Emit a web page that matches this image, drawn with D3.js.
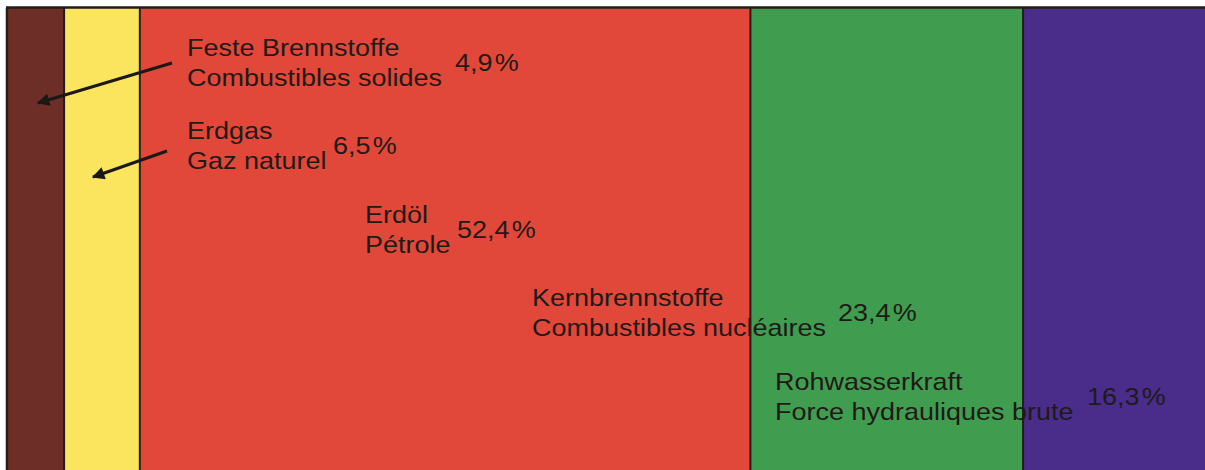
<!DOCTYPE html>
<html><head><meta charset="utf-8">
<script src="https://cdn.jsdelivr.net/npm/d3@7"></script>
<style>html,body{margin:0;padding:0;background:#fff;overflow:hidden}</style>
</head><body>
<script>
// ---- data ----
const categoriesDe = ["Feste Brennstoffe", "Erdgas", "Erdöl", "Kernbrennstoffe", "Rohwasserkraft"];
const categoriesFr = ["Combustibles solides", "Gaz naturel", "Pétrole", "Combustibles nucléaires", "Force hydrauliques brute"];
const shares = [4.9, 6.5, 52.4, 23.4, 16.3];
const colors = ["#6c2e26", "#fbe45e", "#e1483a", "#409d50", "#4a2c8b"];

// ---- layout ----
const W = 1205, H = 470;
const svg = d3.select("body").append("svg").attr("width", W).attr("height", H);
const total = d3.sum(shares);
const cum = d3.cumsum(shares);
const starts = shares.map((d, i) => cum[i] - d);
const x = d3.scaleLinear().domain([0, total]).range([7, 1213]);
const yTop = 8, yBottom = 475;

svg.append("g").selectAll("rect").data(shares).join("rect")
  .attr("x", (d, i) => x(starts[i]))
  .attr("y", yTop)
  .attr("width", (d, i) => x(cum[i]) - x(starts[i]))
  .attr("height", yBottom - yTop)
  .attr("fill", (d, i) => colors[i]);

// separators
svg.append("g").selectAll("line").data(Array.from(cum).slice(0, -1)).join("line")
  .attr("x1", d => x(d)).attr("x2", d => x(d))
  .attr("y1", yTop).attr("y2", yBottom)
  .attr("stroke", "#231c1a").attr("stroke-width", 2);
// frame top + left
svg.append("line").attr("x1", 6).attr("x2", W).attr("y1", yTop - 0.5).attr("y2", yTop - 0.5)
  .attr("stroke", "#231c1a").attr("stroke-width", 2.5);
svg.append("line").attr("x1", 7).attr("x2", 7).attr("y1", yTop).attr("y2", yBottom)
  .attr("stroke", "#231c1a").attr("stroke-width", 2.5);

// labels
const labelPos = [
  {x: 187, y: 56, px: 455},
  {x: 187, y: 139, px: 333},
  {x: 365, y: 223, px: 457},
  {x: 532, y: 306, px: 838},
  {x: 775, y: 390, px: 1087}
];
const fmt = v => d3.format(".1f")(v).replace(".", ",") + "\u200A%";
const lineGap = 29.5;
const sx = 1.125;
const g = svg.append("g").attr("font-family", "'Liberation Sans', Arial, Helvetica, sans-serif")
  .attr("font-size", 24).attr("fill", "#1f1a18");
function put(tx, ty, s) {
  g.append("text").attr("transform", `translate(${tx},${ty}) scale(${sx},1)`).text(s);
}
shares.forEach((v, i) => {
  const p = labelPos[i];
  put(p.x, p.y, categoriesDe[i]);
  put(p.x, p.y + lineGap, categoriesFr[i]);
  put(p.px, p.y + lineGap / 2, fmt(v));
});

// arrows
const defs = svg.append("defs");
defs.append("marker").attr("id", "ah").attr("viewBox", "0 0 10 10")
  .attr("refX", 9).attr("refY", 5).attr("markerWidth", 6).attr("markerHeight", 4.2)
  .attr("orient", "auto").attr("markerUnits", "strokeWidth")
  .append("path").attr("d", "M0,0L10,5L0,10Z").attr("fill", "#1c1816");
const arrows = [
  {x1: 172, y1: 63, x2: 38, y2: 103},
  {x1: 167, y1: 151, x2: 93, y2: 177}
];
svg.append("g").selectAll("line").data(arrows).join("line")
  .attr("x1", d => d.x1).attr("y1", d => d.y1).attr("x2", d => d.x2).attr("y2", d => d.y2)
  .attr("stroke", "#1c1816").attr("stroke-width", 3).attr("marker-end", "url(#ah)");
</script>
</body></html>
